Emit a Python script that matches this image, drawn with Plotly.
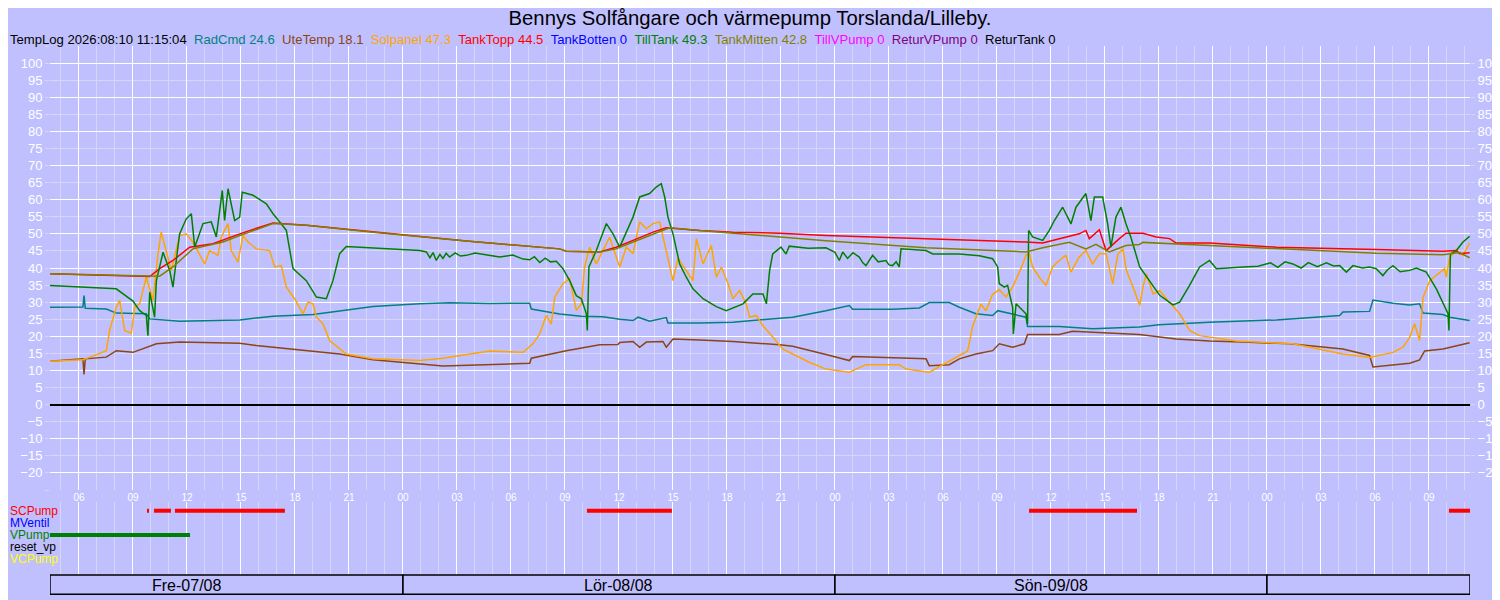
import pandas as pd
import plotly.graph_objects as go

# Tidpunkter anges i timmar räknat från fredag 2026-08-07 00:00
start = pd.Timestamp("2026-08-07 00:00")

radcmd_h = [4.37, 6.22, 6.28, 6.35, 7.52, 8.07, 9.74, 9.93, 11.59, 14.93, 16.78, 19.0, 20.48, 22.33,
            24.93, 26.59, 28.81, 31.04, 31.13, 32.70, 33.91, 35.11, 36.04, 36.78, 37.06, 37.70, 38.63,
            38.72, 40.48, 42.33, 44.93, 45.65, 47.5, 48.80, 48.98, 51.20, 52.69, 53.24, 54.35, 54.91,
            55.83, 56.76, 57.04, 57.87, 58.61, 58.70, 60.46, 62.31, 64.91, 66.0, 68.81, 72.52, 75.11,
            76.04, 76.22, 77.70, 77.89, 79.0, 79.93, 80.48, 80.67, 81.78, 82.15, 83.26]
radcmd = [28.5, 28.6, 31.9, 28.2, 28.0, 26.8, 26.6, 25.1, 24.4, 24.8, 25.9, 26.4, 27.4, 28.7,
          29.5, 29.8, 29.6, 29.7, 28.0, 26.5, 25.9, 25.7, 25.0, 24.6, 25.6, 24.4, 25.5,
          23.9, 23.9, 24.1, 25.3, 25.6, 27.5, 29.0, 27.9, 27.9, 28.3, 29.9, 29.9, 28.5,
          26.6, 26.1, 27.5, 26.6, 25.6, 22.9, 22.9, 22.2, 22.7, 23.4, 24.1, 24.8, 25.6,
          26.1, 27.1, 27.3, 30.6, 29.7, 29.2, 29.5, 26.8, 26.4, 25.6, 24.6]

ute_h = [4.37, 6.22, 6.28, 6.35, 7.52, 8.07, 9.0, 10.30, 11.59, 14.93, 15.85, 18.63, 20.48, 22.33,
         24.93, 26.22, 31.04, 31.13, 33.07, 34.93, 35.94, 36.04, 36.78, 37.15, 37.52, 38.44, 38.63,
         39.0, 40.48, 42.33, 44.93, 45.65, 47.5, 48.80, 48.98, 53.06, 53.24, 54.35, 54.91, 55.83,
         56.76, 57.13, 57.87, 58.52, 58.70, 60.46, 61.20, 62.31, 64.91, 66.96, 68.81, 70.67, 73.26,
         76.22, 77.70, 77.89, 79.0, 79.93, 80.48, 80.76, 81.78, 83.26]
ute = [12.7, 13.4, 8.8, 13.4, 13.9, 15.8, 15.3, 17.8, 18.3, 18.0, 17.3, 15.8, 14.8, 13.1,
       11.9, 11.3, 12.1, 13.6, 15.8, 17.5, 17.6, 18.2, 18.5, 16.8, 18.3, 18.5, 16.8,
       19.2, 18.9, 18.5, 17.5, 17.1, 14.7, 12.9, 14.1, 13.4, 11.4, 11.7, 13.4, 14.8,
       15.8, 17.8, 16.8, 17.8, 20.5, 20.5, 21.5, 21.2, 20.5, 19.2, 18.6, 18.3, 17.8,
       16.3, 14.4, 11.0, 11.7, 12.1, 13.1, 15.7, 16.3, 18.1]

sol_h = [4.37, 6.22, 7.15, 7.52, 7.70, 8.07, 8.26, 8.54, 8.91, 9.09,
         9.37, 9.74, 10.11, 10.39, 10.57, 10.85, 11.13, 11.59, 11.96, 12.33,
         12.70, 12.98, 13.26, 13.72, 13.91, 14.28, 14.46, 14.83, 15.11, 15.39,
         15.85, 16.59, 16.87, 17.24, 17.52, 17.98, 18.44, 18.72, 19.0, 19.19,
         19.56, 19.93, 20.85, 22.33, 24.93, 26.22, 28.81, 30.67, 31.22, 31.59,
         31.96, 32.24, 32.43, 32.89, 33.26, 33.63, 33.91, 34.09, 34.37, 34.74,
         35.11, 35.48, 36.04, 36.41, 36.78, 37.15, 37.52, 37.89, 38.26, 38.54,
         38.72, 39.0, 39.28, 39.74, 40.11, 40.30, 40.67, 41.13, 41.41, 41.69,
         42.06, 42.33, 42.70, 43.07, 43.26, 43.63, 44.0, 44.56, 45.09, 46.57,
         47.5, 48.80, 49.35, 49.72, 51.57, 51.94, 53.24, 53.80, 54.91, 55.37,
         55.65, 56.11, 56.39, 56.76, 57.13, 57.50, 57.87, 58.33, 58.61, 58.80,
         58.98, 59.35, 59.72, 60.09, 60.46, 60.83, 61.11, 61.57, 61.94, 62.31,
         62.69, 63.06, 63.43, 63.72, 64.0, 64.19, 64.56, 64.93, 65.11, 65.30,
         65.67, 66.04, 66.59, 67.15, 67.70, 68.26, 70.30, 73.44, 76.22, 77.70,
         79.0, 79.56, 79.93, 80.20, 80.48, 80.67, 81.04, 81.41, 81.87, 81.96,
         82.15, 82.52, 82.89, 83.26]
sol = [12.7, 13.1, 15.0, 15.8, 21.7, 28.5, 30.5, 21.7, 20.9, 28.5,
       29.5, 37.3, 30.5, 44.2, 50.5, 45.1, 39.3, 49.5, 50.0, 47.6,
       44.2, 41.2, 45.1, 43.7, 49.1, 53.0, 45.1, 41.7, 49.5, 47.6,
       45.6, 45.1, 40.3, 40.7, 34.4, 31.0, 26.6, 30.0, 29.5, 25.6,
       23.6, 18.7, 14.8, 13.4, 12.9, 13.6, 15.7, 15.3, 17.8, 20.7,
       26.1, 23.6, 31.5, 35.4, 36.9, 27.6, 29.5, 40.3, 46.1, 41.2,
       45.1, 49.0, 40.3, 46.1, 44.2, 53.5, 51.5, 53.0, 53.5, 47.1,
       42.9, 36.3, 42.9, 39.3, 36.3, 48.6, 41.2, 46.6, 37.3, 40.3,
       35.4, 31.0, 33.4, 29.5, 25.6, 26.1, 23.1, 19.7, 16.3, 12.4,
       10.4, 9.5, 10.9, 11.7, 11.7, 10.4, 9.5, 11.1, 14.2, 15.7,
       23.0, 29.4, 27.5, 32.3, 33.7, 31.5, 34.4, 39.8, 43.7, 44.2,
       40.3, 37.3, 34.9, 40.3, 42.2, 43.7, 38.8, 43.2, 45.1, 41.2,
       44.2, 44.2, 35.4, 44.1, 45.6, 39.3, 34.4, 29.0, 34.4, 38.3,
       32.4, 33.4, 29.9, 26.6, 21.7, 20.2, 18.6, 17.8, 14.8, 13.8,
       15.3, 16.8, 19.7, 23.7, 18.8, 31.3, 36.3, 37.8, 39.8, 37.3,
       43.1, 45.1, 43.7, 47.3]

topp_h = [4.37, 9.93, 10.48, 11.22, 12.15, 13.44, 14.93, 16.78, 18.63, 22.33,
          24.93, 27.52, 32.70, 33.07, 34.93, 35.85, 36.78, 37.89, 38.63, 40.48,
          42.33, 44.93, 47.5, 53.06, 58.61, 59.54, 60.46, 61.57, 61.94, 62.13,
          62.69, 63.06, 63.80, 64.17, 65.11, 65.85, 66.59, 66.96, 68.81, 72.52,
          78.07, 81.78, 82.52, 82.70, 83.26]
topp = [38.3, 37.5, 39.8, 42.2, 46.1, 47.1, 50.0, 53.2, 52.5, 50.5,
        49.1, 47.9, 45.6, 44.9, 44.7, 46.1, 48.1, 50.5, 51.8, 51.0,
        50.5, 50.2, 49.5, 48.6, 47.6, 47.3, 48.6, 50.0, 51.0, 48.6,
        51.2, 45.1, 48.6, 50.2, 50.2, 49.1, 48.6, 47.3, 47.3, 46.1,
        45.4, 44.9, 45.1, 44.2, 44.5]

till_h = [4.37, 8.07, 9.0, 9.37, 9.74, 9.83, 9.93, 10.20, 10.30, 10.67,
          11.04, 11.22, 11.59, 11.96, 12.24, 12.43, 12.89, 13.35, 13.63, 13.96,
          14.09, 14.28, 14.65, 14.93, 15.07, 15.67, 16.41, 16.78, 17.15, 17.52,
          17.89, 18.63, 19.19, 19.74, 20.11, 20.48, 20.85, 22.33,
          24.93, 25.30, 25.50, 25.67, 25.85, 26.05, 26.22, 26.40, 26.59, 26.90,
          27.20, 27.52, 28.00, 28.60, 29.37, 30.10, 30.67, 31.04, 31.30, 31.60,
          31.90, 32.20, 32.52,
          32.89, 33.26, 33.63, 33.91, 34.19, 34.24, 34.33, 34.74, 35.30, 35.67,
          36.04, 36.59, 36.78, 37.15, 37.70, 38.07, 38.35, 38.54, 38.72, 39.0,
          39.37, 39.74, 40.11, 40.67, 41.41, 41.96, 42.89, 43.44, 44.0, 44.19,
          44.37, 44.54, 45.0, 45.28,
          45.46, 46.50, 47.50, 48.00, 48.24, 48.43, 48.70, 49.00, 49.35, 49.55,
          49.72, 50.09, 50.40, 50.83, 51.00, 51.20, 51.40, 51.57, 51.67,
          53.06, 53.43, 54.91, 56.02, 56.76, 57.04, 57.13, 57.41, 57.59, 57.87,
          57.91, 58.06, 58.61, 58.70, 58.76, 58.98, 59.54, 59.91, 60.19, 60.65,
          61.11, 61.39, 61.94, 62.22, 62.41, 62.87, 63.15, 63.33, 63.61, 63.89,
          64.17, 64.44, 64.93, 65.48, 66.04, 66.78, 67.15, 67.70, 68.26,
          68.81, 69.19, 70.67, 71.50, 72.20, 72.60, 73.00, 73.44, 73.90, 74.30,
          74.80, 75.30, 75.70, 76.04, 76.41, 76.78, 77.30, 77.70, 78.07, 78.44,
          78.70, 79.00, 79.40, 79.93, 80.30, 80.85,
          81.41, 81.78, 82.06, 82.11, 82.19, 82.52, 82.89, 83.26]
till = [34.9, 33.9, 30.3, 27.5, 26.1, 20.2, 32.9, 25.6, 36.3, 44.6,
        39.3, 34.4, 50.0, 54.4, 55.9, 46.1, 53.0, 53.5, 49.1, 62.7,
        53.9, 63.2, 53.9, 54.9, 62.2, 61.3, 58.8, 55.9, 53.5, 51.0,
        39.8, 36.3, 31.5, 31.0, 36.3, 44.2, 46.3, 45.9,
        45.1, 44.7, 43.0, 44.5, 42.2, 44.0, 42.8, 44.3, 43.2, 44.4,
        43.5, 43.7, 44.4, 43.9, 43.2, 43.8, 42.6, 42.4, 43.3, 41.6,
        42.9, 41.8, 42.0,
        39.8, 36.3, 31.9, 31.0, 26.6, 21.7, 40.3, 45.1, 53.0, 50.0,
        46.1, 52.5, 54.9, 60.8, 61.8, 63.7, 64.7, 60.8, 54.9, 50.0,
        41.2, 37.3, 33.9, 31.0, 28.7, 27.5, 29.5, 32.4, 32.4, 29.5,
        39.3, 44.1, 46.1, 44.1,
        46.4, 45.8, 45.9, 44.6, 42.2, 44.7, 42.8, 44.5, 43.2, 41.5,
        40.7, 43.7, 41.8, 42.2, 40.9, 40.7, 41.8, 40.3, 45.6,
        45.1, 44.1, 44.1, 43.6, 42.7, 40.3, 35.4, 34.4, 34.9, 28.5,
        20.7, 29.5, 26.6, 23.6, 51.0, 49.1, 48.1, 51.0, 53.9, 57.8,
        52.9, 57.8, 61.8, 53.9, 60.8, 60.8, 52.9, 46.1, 54.9, 57.8,
        52.9, 49.0, 40.3, 36.3, 32.0, 29.2, 30.0, 34.9, 40.3,
        42.2, 39.8, 40.3, 40.5, 41.5, 40.2, 41.8, 41.2, 40.0, 41.6,
        40.4, 41.5, 40.6, 40.7, 38.8, 40.7, 40.0, 40.3, 39.8, 37.8,
        39.5, 40.7, 38.9, 39.3, 40.0, 38.8,
        33.9, 29.5, 26.6, 21.7, 44.1, 45.1, 47.6, 49.3]

mitten_h = [4.37, 9.93, 10.48, 11.22, 12.33, 14.0, 14.93, 16.78, 18.63, 22.33,
            24.93, 27.52, 32.70, 33.07, 34.93, 35.85, 36.78, 37.89, 38.81, 40.48,
            42.33, 44.93, 47.5, 53.06, 58.61, 59.54, 61.02, 61.94, 62.50, 63.24,
            64.17, 64.91, 65.11, 68.81, 72.52, 78.07, 81.78, 82.70, 83.26]
mitten = [38.3, 37.5, 37.6, 40.3, 45.6, 47.6, 49.5, 53.0, 52.5, 50.5,
          49.1, 47.9, 45.6, 44.9, 44.7, 45.6, 47.6, 50.0, 51.8, 51.0,
          50.2, 49.2, 48.0, 45.9, 44.7, 45.9, 47.5, 45.6, 46.9, 44.7,
          46.6, 46.9, 47.5, 46.6, 45.6, 44.3, 43.9, 44.5, 43.0]

# Pumpar: på/av i timmar
sc_on = [9.78, 10.17, 11.33, 34.22, 58.78, 82.11]
sc_off = [9.89, 11.11, 17.44, 38.94, 64.78, 83.28]
vp_on = [4.39]
vp_off = [12.17]

# Senaste avläsning i rubrikraden
sensor_names = ["RadCmd", "UteTemp", "Solpanel", "TankTopp", "TankBotten", "TillTank",
                "TankMitten", "TillVPump", "ReturVPump", "ReturTank"]
sensor_last = ["24.6", "18.1", "47.3", "44.5", "0", "49.3", "42.8", "0", "0", "0"]
sensor_colors = ["#008080", "#8B4513", "#FFA500", "#FF0000", "#0000FF", "#008000",
                 "#808000", "#FF00FF", "#800080", "#000000"]
log_stamp = "TempLog 2026:08:10 11:15:04"

view_h = [4.39, 83.28]
day_start_h = [0, 24, 48, 72]
day_names = ["Fre-07/08", "Lör-08/08", "Sön-09/08", ""]

pump_names = ["SCPump", "MVentil", "VPump", "reset_vp", "VCPump"]
pump_colors = ["#FF0000", "#0000FF", "#008000", "#000000", "#FFFF00"]


def tid(hours):
    return [start + pd.Timedelta(hours=h) for h in hours]


def segments(on, off, level):
    xs, ys = [], []
    for a, b in zip(on, off):
        xs += [a, b, None]
        ys += [level, level, None]
    return [start + pd.Timedelta(hours=h) if h is not None else None for h in xs], ys


bg = "#C0C0FF"
minor_grid = "#D7D7F4"
font = "Liberation Sans"
row_y = [84.3, 72.3, 60.0, 48.3, 36.0]

# sidan har 8 px marginal runt diagrammet, så figuren görs 8 px mindre
W, H = 1492, 592
ML, MR, MT, MB = 42, 30, 38, 5
plot_h = H - MT - MB

fig = go.Figure()

fig.add_trace(go.Scatter(x=tid(radcmd_h), y=radcmd, line=dict(color="#008080", width=1.5)))
fig.add_trace(go.Scatter(x=tid(ute_h), y=ute, line=dict(color="#8B4513", width=1.5)))
fig.add_trace(go.Scatter(x=tid(sol_h), y=sol, line=dict(color="#FFA500", width=1.5)))
fig.add_trace(go.Scatter(x=tid(topp_h), y=topp, line=dict(color="#FF0000", width=1.5)))
fig.add_trace(go.Scatter(x=tid(till_h), y=till, line=dict(color="#008000", width=1.5), yaxis="y3"))
fig.add_trace(go.Scatter(x=tid(mitten_h), y=mitten, line=dict(color="#808000", width=1.5), yaxis="y4"))

sx, sy = segments(sc_on, sc_off, row_y[0])
fig.add_trace(go.Scatter(x=sx, y=sy, line=dict(color="#FF0000", width=4), xaxis="x2", yaxis="y2"))
vx, vy = segments(vp_on, vp_off, row_y[2])
fig.add_trace(go.Scatter(x=vx, y=vy, line=dict(color="#008000", width=4), xaxis="x2", yaxis="y2"))

fig.update_traces(mode="lines", showlegend=False, hoverinfo="skip")

x_range = tid(view_h)
x_common = dict(type="date", range=x_range, tick0=start, dtick=3 * 3600 * 1000, automargin=False,
                showgrid=True, gridcolor="white", gridwidth=1, zeroline=False, showline=False,
                ticks="", minor=dict(tick0=start, dtick=3600 * 1000, showgrid=True,
                                     gridcolor=minor_grid, gridwidth=1))
y_ticks = dict(ticks="outside", ticklen=4, tickcolor=minor_grid, automargin=False,
               tickfont=dict(color="white", size=13, family=font))

top_bottom = 105 / plot_h
status_top = 93 / plot_h

fig.update_layout(
    width=W, height=H,
    margin=dict(l=ML, r=MR, t=MT, b=MB, autoexpand=False),
    paper_bgcolor=bg, plot_bgcolor=bg,
    font=dict(family=font),
    title=dict(text="Bennys Solfångare och värmepump Torslanda/Lilleby.",
               x=742 / W, xref="container", xanchor="center",
               y=1 - 9.5 / H, yref="container", yanchor="middle",
               font=dict(size=20.3, color="black", family=font)),
    xaxis=dict(**x_common, domain=[0, 1], anchor="y", tickformat="%H",
               tickfont=dict(color="white", size=10, family=font)),
    xaxis2=dict(**x_common, domain=[0, 1], anchor="y2", showticklabels=False),
    yaxis=dict(domain=[top_bottom, 1], range=[-25, 105], tick0=0, dtick=10, anchor="x",
               showgrid=True, gridcolor="white", gridwidth=1,
               zeroline=True, zerolinecolor="black", zerolinewidth=1.5, showline=False,
               minor=dict(tick0=0, dtick=5, showgrid=True, gridcolor=minor_grid,
                          ticks="outside", ticklen=4, tickcolor=minor_grid),
               **y_ticks),
    yaxis3=dict(overlaying="y", side="right", anchor="x", range=[-25, 105],
                tickvals=list(range(-20, 101, 5)), showgrid=False, zeroline=False, **y_ticks),
    yaxis4=dict(overlaying="y", side="left", anchor="x", range=[-25, 105],
                tickvals=list(range(-15, 100, 10)), showgrid=False, zeroline=False, **y_ticks),
    yaxis2=dict(domain=[0, status_top], range=[0, 93], anchor="x2", showgrid=False,
                zeroline=False, showticklabels=False, ticks="", automargin=False),
)

left_edge = -ML / (W - ML - MR)

# Rubrikrad med senaste värden
parts = [log_stamp]
for n, v, c in zip(sensor_names, sensor_last, sensor_colors):
    parts.append(f"<span style='color:{c}'>{n} {v}</span>")
fig.add_annotation(text="\u00a0\u00a0".join(parts), xref="paper", yref="paper",
                   x=left_edge, y=(plot_h + 6.5) / plot_h, xanchor="left", yanchor="middle",
                   showarrow=False, font=dict(size=13.1, color="black", family=font))

# Pumpetiketter
for n, c, ry in zip(pump_names, pump_colors, row_y):
    fig.add_annotation(text=n, xref="paper", yref="y2", x=left_edge, y=ry,
                       xanchor="left", yanchor="middle", showarrow=False,
                       font=dict(size=12, color=c, family=font))

# Dagrutor
edges = [max(h, view_h[0]) for h in day_start_h] + [view_h[1]]
for i, name in enumerate(day_names):
    x0, x1 = tid([edges[i], min(edges[i + 1], view_h[1])])
    fig.add_shape(type="rect", xref="x2", yref="y2", x0=x0, x1=x1, y0=0.8, y1=20,
                  line=dict(color="black", width=1.5), fillcolor=bg, layer="above")
    if name:
        fig.add_annotation(text=name, xref="x2", yref="y2", x=tid([day_start_h[i] + 12])[0],
                           y=10, showarrow=False, font=dict(size=16, color="black", family=font))

fig.write_html("out.html")
